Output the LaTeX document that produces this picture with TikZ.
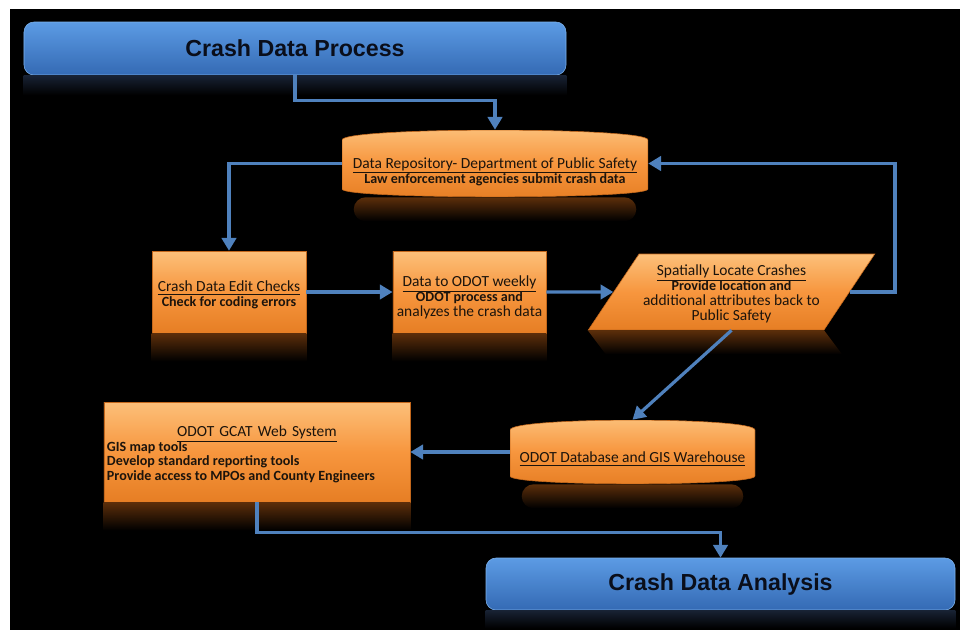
\documentclass[tikz,border=0pt]{standalone}
\usepackage{fontspec}
\setmainfont{Carlito}
\newfontfamily\arialfont{Liberation Sans}
\usetikzlibrary{arrows.meta,shapes.geometric}
\definecolor{flowblue}{RGB}{79,129,189}
\definecolor{bluetop}{RGB}{92,155,228}
\definecolor{bluebot}{RGB}{52,106,180}
\definecolor{blueedge}{RGB}{125,178,236}
\definecolor{orgtop}{RGB}{252,192,122}
\definecolor{orgmid}{RGB}{247,150,62}
\definecolor{orgbot}{RGB}{230,126,36}
\definecolor{orgedge}{RGB}{196,104,28}
\definecolor{orgrefl}{RGB}{92,46,10}
\definecolor{bluerefl}{RGB}{24,34,52}
\definecolor{inktext}{RGB}{28,20,12}
\definecolor{navytext}{RGB}{10,14,26}
\newcommand{\boxfont}{\fontsize{11}{10.6}\selectfont\lineskiplimit=-20pt\relax}
\newcommand{\boxbody}{\fontsize{10}{10.4}\selectfont\bfseries\lineskiplimit=-20pt\spaceskip=0pt\relax}

\begin{document}
\begin{tikzpicture}[x=0.25mm,y=-0.25mm,
  titlebox/.style={rounded corners=2.5mm,top color=bluetop,bottom color=bluebot,draw=blueedge,text=navytext,font=\arialfont\bfseries\fontsize{16.5}{18}\selectfont},
  stepbox/.style={top color=orgtop,bottom color=orgbot,middle color=orgmid,draw=orgedge,text=inktext,align=center,inner sep=1mm,font=\boxfont},
  lensbox/.style={fill=black,text=inktext,align=center,inner sep=0pt,font=\boxfont,
    path picture={\shade[top color=orgtop,bottom color=orgbot,middle color=orgmid,draw=orgedge]
      ([yshift=-2.5mm]path picture bounding box.north west) .. controls ([yshift=0.8mm]path picture bounding box.north west) and ([yshift=0.8mm]path picture bounding box.north east) .. ([yshift=-2.5mm]path picture bounding box.north east)
      -- ([yshift=2mm]path picture bounding box.south east) .. controls ([yshift=-0.6mm]path picture bounding box.south east) and ([yshift=-0.6mm]path picture bounding box.south west) .. ([yshift=2mm]path picture bounding box.south west) -- cycle;}},
  flow/.style={draw=flowblue,line width=0.8mm,-{Triangle[length=3.2mm,width=3.6mm]}},
  orgrefl/.style={top color=orgrefl,bottom color=black},
  bluerefl/.style={top color=bluerefl,bottom color=black}]

\fill[white] (0,0) rectangle (960,630);
\fill[black] (10,9) rectangle (960,630);

\node (P) at (295,48.5) [titlebox,minimum width=135.5mm,minimum height=13.25mm]{Crash Data Process};
\node (R) at (495,163.5) [lensbox,minimum width=76.5mm,minimum height=16.75mm]{\rule{0pt}{19pt}\underline{Data Repository- Department of Public Safety}\\ \boxbody Law enforcement agencies submit crash data};
\node (E) at (229,292) [stepbox,minimum width=38.5mm,minimum height=20.5mm]{\rule{0pt}{12pt}\underline{Crash Data Edit Checks}\\ \boxbody Check for coding errors};
\node (W) at (469.5,292) [stepbox,minimum width=36.75mm,minimum height=20.5mm]{\rule{0pt}{15pt}\underline{Data to ODOT weekly}\\ \boxbody ODOT process and\\ analyzes the crash data};
\node (S) at (731.5,292) [stepbox,shape=trapezium,trapezium left angle=54,trapezium right angle=126,trapezium stretches=true,minimum width=68.25mm,minimum height=19mm]{\rule{0pt}{10.5pt}\underline{Spatially Locate Crashes}\\ \boxbody Provide location and\\ additional attributes back to\\ Public Safety};
\node (D) at (632.5,452) [lensbox,minimum width=61.25mm,minimum height=16mm]{\rule{0pt}{17.7pt}\underline{ODOT Database and GIS Warehouse}};
\node (G) at (257,452) [stepbox,minimum width=76.5mm,minimum height=25mm,text width=75mm,align=left,inner sep=0.5mm]{\rule{0pt}{11pt}\makebox[\linewidth]{\underline{ODOT GCAT Web System}}\\ \boxbody GIS map tools\\ Develop standard reporting tools\\ Provide access to MPOs and County Engineers};
\node (A) at (720.5,584) [titlebox,minimum width=117.25mm,minimum height=13mm]{Crash Data Analysis};

\shade[bluerefl] (P.south west) rectangle ([yshift=-5mm]P.south east);
\shade[orgrefl,rounded corners=3mm] ([xshift=3mm]R.south west) rectangle ([xshift=-3mm,yshift=-6mm]R.south east);
\shade[orgrefl] (E.south west) rectangle ([yshift=-7mm]E.south east);
\shade[orgrefl] (W.south west) rectangle ([yshift=-7mm]W.south east);
\shade[orgrefl] (S.bottom left corner) -- (S.bottom right corner) -- ([xshift=4.5mm,yshift=-6mm]S.bottom right corner) -- ([xshift=4.5mm,yshift=-6mm]S.bottom left corner) -- cycle;
\shade[orgrefl,rounded corners=3mm] ([xshift=3mm]D.south west) rectangle ([xshift=-3mm,yshift=-6mm]D.south east);
\shade[orgrefl] (G.south west) rectangle ([yshift=-7mm]G.south east);
\shade[bluerefl] (A.south west) rectangle ([yshift=-4.5mm]A.south east);

\coordinate (loop) at (895,163.5);

\draw[flow] (P.south) -- ++(0,25) -| (R.north);
\draw[flow] (R.west) -| (E.north);
\draw[flow] (E) -- (W);
\draw[flow] (W) -- (S);
\draw[flow] (S.east) -| (loop) -- (R.east);
\draw[flow] (S.south) -- (D.north);
\draw[flow] (D) -- (G);
\draw[flow] (G.south) -- ++(0,30) -| (A.north);

\end{tikzpicture}
\end{document}
